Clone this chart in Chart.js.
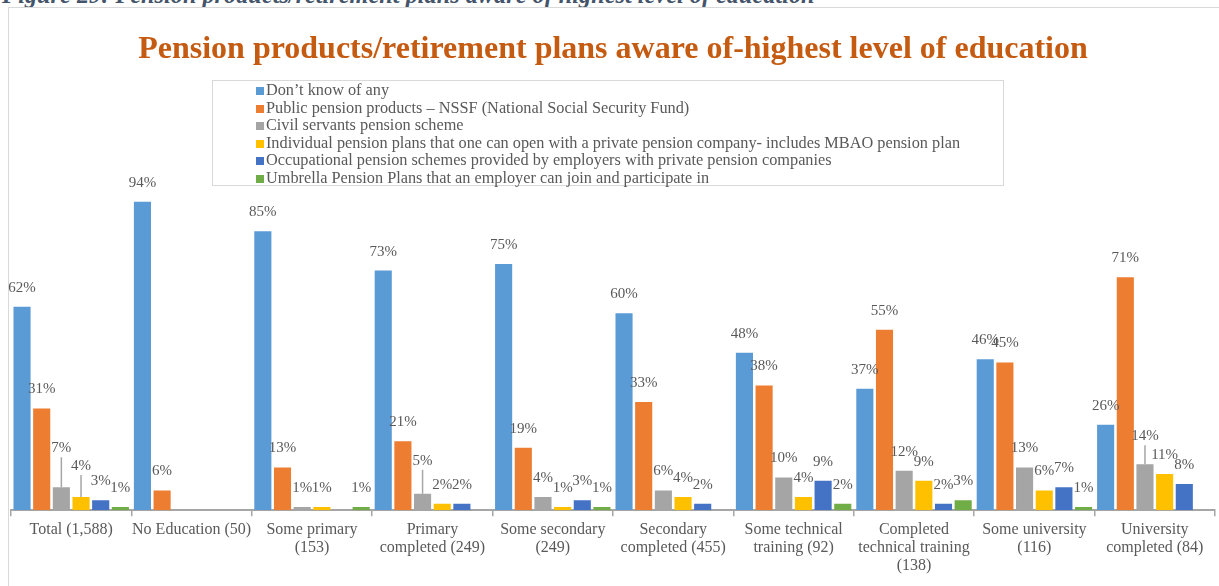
<!DOCTYPE html>
<html>
<head>
<meta charset="utf-8">
<title>Pension products by education</title>
<script src="https://cdn.jsdelivr.net/npm/chart.js@4/dist/chart.umd.min.js"></script>
<style>
  body { margin: 0; background: #fff; overflow: hidden; }
  #page { position: relative; width: 1219px; height: 586px; overflow: hidden; }
  #caption {
    position: absolute; left: 2px; top: -19px; white-space: nowrap;
    font: italic bold 24.3px "Liberation Serif", serif; color: #44546A;
  }
  #frame {
    position: absolute; left: 8px; top: 7px; width: 1300px; height: 700px;
    border-left: 1.5px solid #D9D9D9; border-top: 1.5px solid #D9D9D9;
  }
  #myChart { position: absolute; left: 0; top: 0; }
  #legend {
    position: absolute; left: 212px; top: 80px; width: 790px; height: 104px;
    border: 1px solid #D9D9D9; background: #fff;
    display: flex; justify-content: center;
  }
  #legend ul { list-style: none; margin: 0; padding: 0; }
  #legend li {
    font: 16.3px "Liberation Serif", serif; color: #595959; line-height: 17.6px;
    white-space: nowrap;
  }
  #legend li span {
    display: inline-block; width: 8px; height: 8px; margin-right: 2px;
  }
</style>
</head>
<body>
<div id="page">
  <div id="caption">Figure 29: Pension products/retirement plans aware of highest level of education</div>
  <div id="frame"></div>
  <canvas id="myChart" width="1219" height="586"></canvas>
  <div id="legend"></div>
</div>
<script>
// education groups (sample size in brackets)
const groups = [
  "Total (1,588)",
  "No Education (50)",
  ["Some primary", "(153)"],
  ["Primary", "completed (249)"],
  ["Some secondary", "(249)"],
  ["Secondary", "completed (455)"],
  ["Some technical", "training (92)"],
  ["Completed", "technical training", "(138)"],
  ["Some university", "(116)"],
  ["University", "completed (84)"]
];

const seriesNames = [
  "Don\u2019t know of any",
  "Public pension products \u2013 NSSF (National Social Security Fund)",
  "Civil servants pension scheme",
  "Individual pension plans that one can open with a private pension company- includes MBAO pension plan",
  "Occupational pension schemes provided by employers with private pension companies",
  "Umbrella Pension Plans that an employer can join and participate in"
];

// percentages, one value per group
const dontKnow     = [62, 94, 85, 73, 75, 60, 48, 37, 46, 26];
const nssf         = [31, 6, 13, 21, 19, 33, 38, 55, 45, 71];
const civilServant = [7, null, 1, 5, 4, 6, 10, 12, 13, 14];
const individual   = [4, null, 1, 2, 1, 4, 4, 9, 6, 11];
const occupational = [3, null, null, 2, 3, 2, 9, 2, 7, 8];
const umbrella     = [1, null, 1, null, 1, null, 2, 3, 1, null];

const colors = ["#5B9BD5", "#ED7D31", "#A5A5A5", "#FFC000", "#4472C4", "#70AD47"];

// labels that sit higher with a leader line: "dataset:index" -> extra lift
const liftedLabels = { "2:0": 20, "3:0": 12, "2:3": 14, "2:9": 9 };

const seriesValues = [dontKnow, nssf, civilServant, individual, occupational, umbrella];

let datasets = seriesValues.map(function (values, i) {
  return {
    label: seriesNames[i],
    data: values,
    backgroundColor: colors[i],
    categoryPercentage: 0.98,
    barPercentage: 0.87
  };
});

// value labels above each bar
const barLabels = {
  id: "barLabels",
  afterDatasetsDraw(chart) {
    let ctx = chart.ctx;
    ctx.save();
    ctx.font = "15px 'Liberation Serif', serif";
    ctx.fillStyle = "#595959";
    ctx.textAlign = "center";
    ctx.textBaseline = "middle";
    chart.data.datasets.forEach(function (ds, di) {
      let meta = chart.getDatasetMeta(di);
      meta.data.forEach(function (bar, i) {
        let v = ds.data[i];
        if (v === null || v === undefined) return;
        let lift = liftedLabels[di + ":" + i] || 0;
        let y = bar.y - 19 - lift;
        if (lift) {
          ctx.strokeStyle = "#A6A6A6";
          ctx.lineWidth = 1.5;
          ctx.beginPath();
          ctx.moveTo(bar.x, y + 9);
          ctx.lineTo(bar.x, bar.y);
          ctx.stroke();
        }
        ctx.fillText(v + "%", bar.x, y);
      });
    });
    ctx.restore();
  }
};

let ctx = document.getElementById("myChart");
let chart = new Chart(ctx, {
  type: "bar",
  data: {
    labels: groups,
    datasets: datasets
  },
  options: {
    responsive: false,
    animation: false,
    devicePixelRatio: 1,
    layout: {
      padding: { left: 11, right: 4, top: 8, bottom: 5.8 }
    },
    plugins: {
      title: {
        display: true,
        text: "Pension products/retirement plans aware of-highest level of education",
        color: "#C55A11",
        font: { family: "'Liberation Serif', serif", size: 32, weight: "bold" },
        padding: { top: 23, bottom: 112.6 }
      },
      legend: { display: false },
      tooltip: { enabled: false }
    },
    scales: {
      x: {
        grid: {
          offset: true,
          drawOnChartArea: false,
          drawTicks: true,
          tickLength: 6,
          color: "#A6A6A6",
          lineWidth: 1.5
        },
        border: { display: true, color: "#A6A6A6", width: 2 },
        ticks: {
          color: "#595959",
          font: { family: "'Liberation Serif', serif", size: 16, lineHeight: 1.125 },
          maxRotation: 0,
          autoSkip: false,
          padding: 5
        }
      },
      y: {
        display: false,
        min: 0,
        max: 100
      }
    }
  },
  plugins: [barLabels]
});

// legend box, one item per row
let legendList = document.createElement("ul");
chart.data.datasets.forEach(function (ds) {
  let li = document.createElement("li");
  let box = document.createElement("span");
  box.style.background = ds.backgroundColor;
  li.appendChild(box);
  li.appendChild(document.createTextNode(ds.label));
  legendList.appendChild(li);
});
document.getElementById("legend").appendChild(legendList);
</script>
</body>
</html>
